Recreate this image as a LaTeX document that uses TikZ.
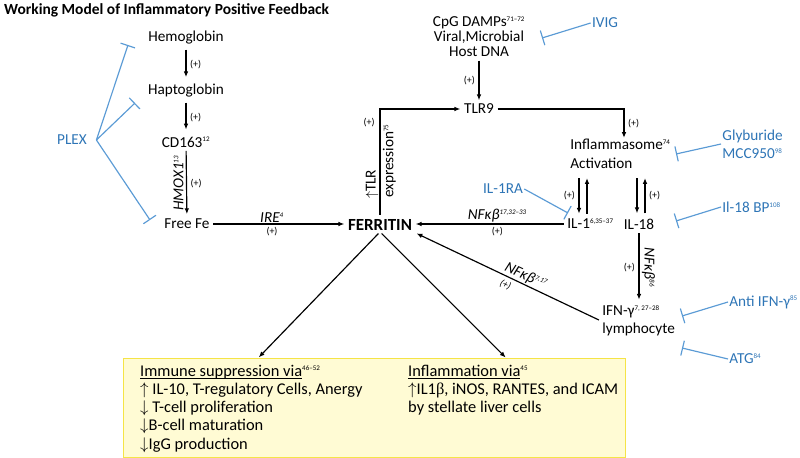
\documentclass[tikz,border=0pt]{standalone}
\usepackage{fontspec}
\setmainfont{Carlito}
\newfontfamily\serifgreek{Liberation Serif}
\usetikzlibrary{arrows.meta,calc}

\definecolor{drugblue}{RGB}{46,117,182}
\definecolor{inhblue}{RGB}{91,155,213}
\definecolor{boxfill}{RGB}{255,251,212}
\definecolor{boxline}{RGB}{245,228,70}
\newcommand{\sps}[1]{\textsuperscript{\fontsize{6}{6}\selectfont #1}}
\newcommand{\nfkb}{\textit{NFκβ}}
\newlength{\ulwd}
\newcommand{\uln}[1]{\settowidth{\ulwd}{#1}\rlap{\rule[-1.6pt]{\ulwd}{0.6pt}}#1}

\begin{document}
\begin{tikzpicture}[x=0.03cm,y=-0.03cm,
    every node/.style={font=\fontsize{13}{15}\selectfont},
    mol/.style={inner sep=1pt},
    drug/.style={text=drugblue, inner sep=1pt},
    plus/.style={font=\fontsize{8.5}{9}\selectfont, inner sep=0pt},
    lbl/.style={font=\fontsize{13}{15}\selectfont\itshape, inner sep=1pt},
    act/.style={-{Latex[length=5pt,width=4pt]}, line width=1pt},
    inh/.style={-{Bar[width=13pt,line width=1pt]}, draw=inhblue, line width=1pt}]
    \useasboundingbox (0,0) rectangle (800,458);

    \node[anchor=west, font=\fontsize{13.2}{15}\selectfont\bfseries] (title) at (0,10) {Working Model of Inflammatory Positive Feedback};

    % iron arm
    \node[mol] (hemo) at (186,38) {Hemoglobin};
    \node[mol] (hapto) at (186,91) {Haptoglobin};
    \node[mol] (cd) at (186,142) {CD163\sps{12}};
    \node[mol] (fe) at (187,224) {Free Fe};
    \node[mol, font=\fontsize{14.5}{16}\selectfont\bfseries] (ferritin) at (380,225) {FERRITIN};

    % TLR9 / inflammasome arm
    \node[mol, align=center, font=\fontsize{13}{12.8}\selectfont] (cpg) at (479,37) {CpG DAMPs\sps{71--72}\\Viral,Microbial\\Host DNA};
    \node[mol] (tlr) at (479,109) {TLR9};
    \node[mol, anchor=west, align=left, font=\fontsize{13}{16}\selectfont] (infl) at (569,154) {Inflammasome\sps{74}\\Activation};
    \node[mol, anchor=west] (il1) at (566,224) {IL-1\sps{6,35--37}};
    \node[mol] (il18) at (639,224) {IL-18};
    \node[mol, anchor=west, align=left, font=\fontsize{13}{15.5}\selectfont] (ifn) at (601,321) {IFN-γ\sps{7, 27--28}\\lymphocyte};

    % drugs
    \node[drug] (plex) at (72,140) {PLEX};
    \node[drug] (ivig) at (605,23) {IVIG};
    \node[drug, anchor=west, align=left, font=\fontsize{13}{15.5}\selectfont] (glyb) at (721,144) {Glyburide\\MCC950\sps{98}};
    \node[drug, anchor=west] (il18bp) at (721,207) {Il-18 BP\sps{108}};
    \node[drug] (il1ra) at (503,189) {IL-1RA};
    \node[drug, anchor=west] (antiifn) at (728,302) {Anti IFN-γ\sps{85}};
    \node[drug, anchor=west] (atg) at (728,359) {ATG\sps{84}};

    \coordinate (tHemo) at (128,45);
    \coordinate (tHapto) at (135,103);
    \coordinate (tFe) at (150,220);
    \coordinate (tCpg) at (542,38);
    \coordinate (tInfl) at (676,154);
    \coordinate (tIl18) at (676,221);
    \coordinate (tIl1) at (568,213);
    \coordinate (tIfn) at (682,316);
    \coordinate (tLym) at (682,348);

    % outcome box
    \draw[draw=boxline, fill=boxfill, line width=0.8pt] (123,358) rectangle (625,457);
    \node[anchor=north west, align=left, inner sep=0pt, font=\fontsize{14}{15.5}\selectfont] (immune) at (140,365)
        {\uln{Immune suppression via}\sps{46--52}\\$\uparrow$ IL-10, T-regulatory Cells, Anergy\\$\downarrow$ T-cell proliferation\\$\downarrow$B-cell maturation\\$\downarrow$IgG production};
    \node[anchor=north west, align=left, inner sep=0pt, font=\fontsize{14}{15.5}\selectfont] (inflam) at (408,365)
        {\uln{Inflammation via}\sps{45}\\$\uparrow$IL1{\serifgreek β}, iNOS, RANTES, and ICAM\\by stellate liver cells};

    % activating arrows
    \draw[act, shorten <=3pt, shorten >=5pt] (hemo) -- node[plus, right=3pt] {(+)} (hapto);
    \draw[act, shorten <=3pt, shorten >=5pt] (hapto) -- node[plus, right=3pt] {(+)} (cd);
    \draw[act, shorten <=2pt, shorten >=3pt] (cd) -- node[plus, right=3pt] {(+)}
        node[lbl, rotate=90, anchor=south, inner sep=2pt] {HMOX1\sps{13}} (fe);
    \draw[act, shorten <=2pt, shorten >=2pt] (fe.east) -- node[lbl, above, pos=0.45] {IRE\sps{4}}
        node[plus, below=2pt, pos=0.45] {(+)} (fe.east -| ferritin.west);
    \draw[act, shorten <=2pt, shorten >=2pt] (cpg) -- node[plus, left=3pt] {(+)} (tlr);
    \draw[act, shorten <=3pt, shorten >=2pt] (ferritin.north) |- node[plus, pos=0.44, left=4pt] {(+)}
        node[pos=0.08, rotate=90, anchor=south west, inner sep=1pt] {$\uparrow$TLR}
        node[pos=0.08, rotate=90, anchor=north west, inner sep=2pt] {expression\sps{75}} (tlr.west);
    \draw[act, shorten <=2pt] (tlr.east) -| node[plus, pos=0.75, right=3pt] {(+)} ($(infl.north west)+(55,0)$);
    \draw[act] ($(infl.south west)+(10,8)$) -- node[plus, left=3pt] {(+)} ($(infl.south west |- il1.north)+(10,-4)$);
    \draw[act] ($(infl.south west |- il1.north)+(18,-4)$) -- ($(infl.south west)+(18,8)$);
    \draw[act] ($(il18.north |- infl.south)+(-2,8)$) -- ($(il18.north)+(-2,-4)$);
    \draw[act] ($(il18.north)+(6,-4)$) -- node[plus, right=3pt] {(+)} ($(il18.north |- infl.south)+(6,8)$);
    \draw[act, shorten <=2pt, shorten >=2pt] (il1.west) -- node[lbl, above, pos=0.45] {\nfkb\sps{17,32--33}}
        node[plus, below=2pt, pos=0.45] {(+)} (il1.west -| ferritin.east);
    \draw[act, shorten <=2pt, shorten >=4pt] (il18.south) -- node[plus, left=3pt] {(+)}
        node[lbl, rotate=-90, anchor=south, inner sep=2pt] {\nfkb\sps{86}} (il18.south |- ifn.north);
    \draw[act, shorten <=2pt, shorten >=3pt] (ifn.west) -- node[lbl, sloped, above, pos=0.42] {\nfkb\sps{7,17}}
        node[plus, sloped, below=3pt, pos=0.49, font=\fontsize{8.5}{9}\selectfont\itshape] {(+)} (ferritin.south east);
    \draw[act, shorten <=2pt, shorten >=9pt] (ferritin.south) -- (immune.north);
    \draw[act, shorten <=2pt, shorten >=9pt] (ferritin.south) -- (inflam.north);

    % inhibitions
    \draw[inh] ([xshift=7pt]plex.east) -- (tHemo);
    \draw[inh] ([xshift=7pt]plex.east) -- (tHapto);
    \draw[inh] ([xshift=7pt]plex.east) -- (tFe);
    \draw[inh] (ivig.west) -- (tCpg);
    \draw[inh] (glyb.west) -- (tInfl);
    \draw[inh] (il18bp.west) -- (tIl18);
    \draw[inh] (il1ra.east) -- (tIl1);
    \draw[inh] (antiifn.west) -- (tIfn);
    \draw[inh] (atg.west) -- (tLym);
\end{tikzpicture}
\end{document}
